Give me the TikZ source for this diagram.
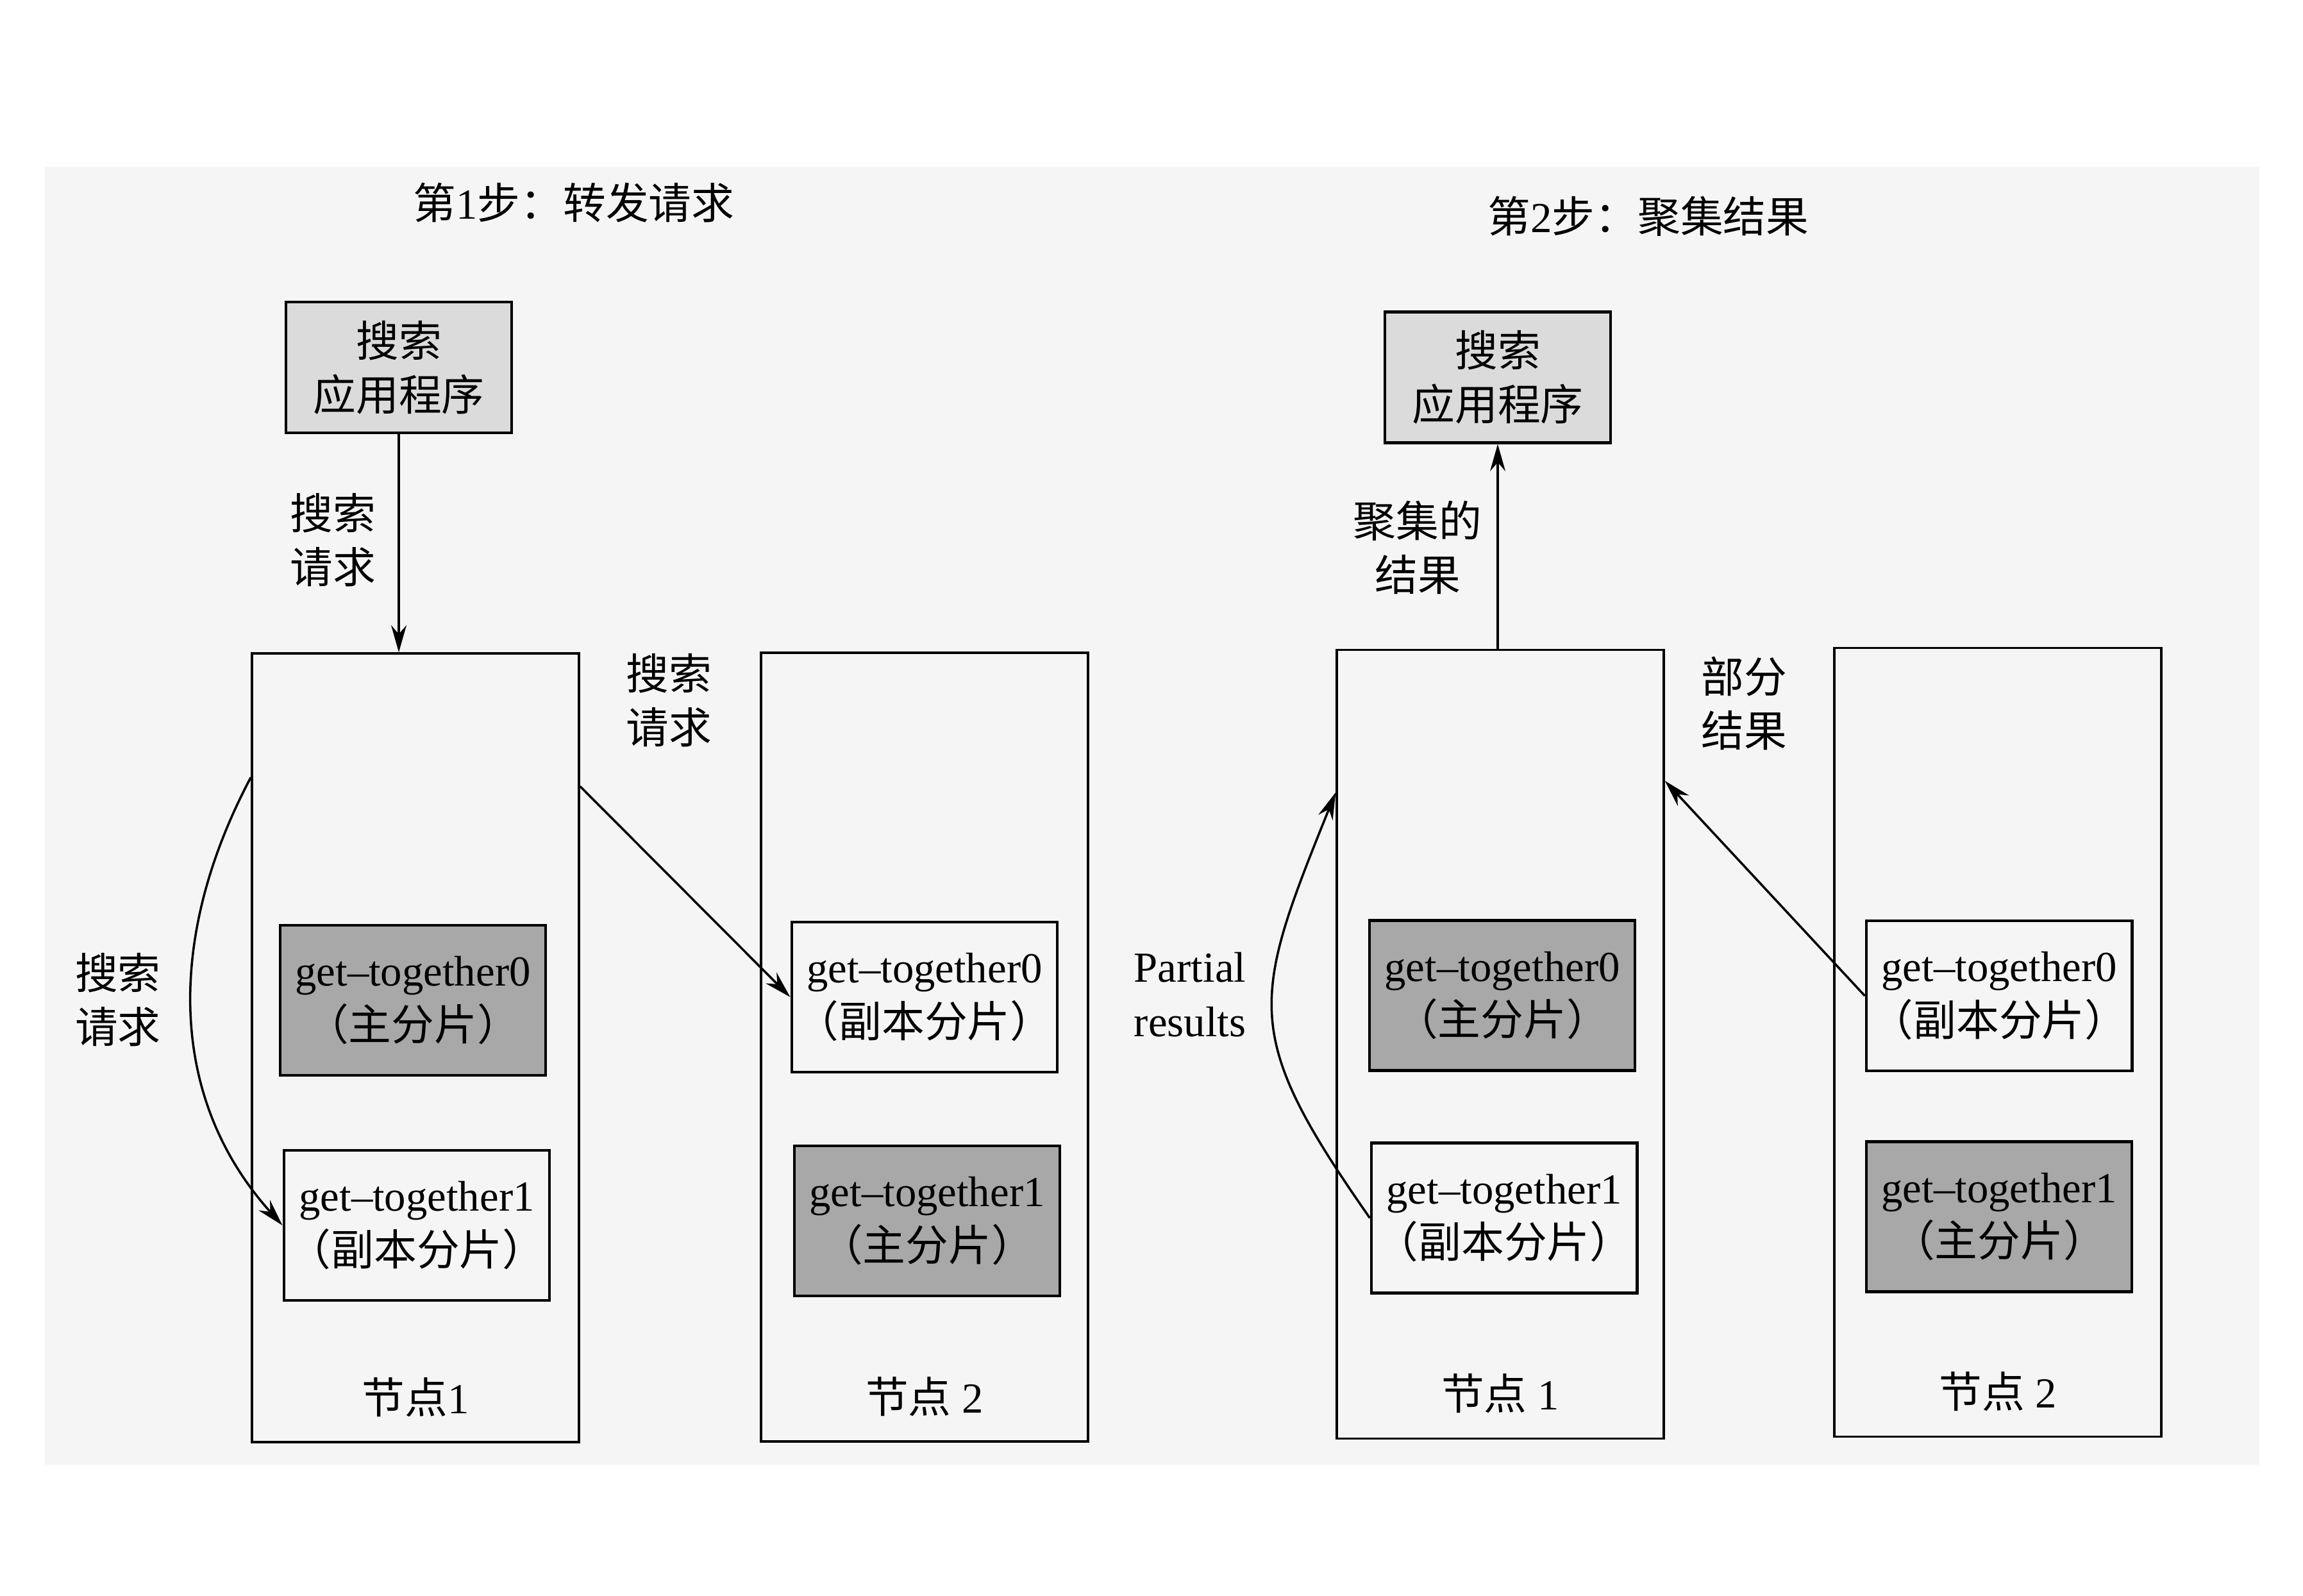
\documentclass[tikz,border=0pt]{standalone}
\usepackage{fontspec}
\setmainfont{Liberation Serif}
\newfontfamily\cjk{Noto Sans CJK SC}
\usetikzlibrary{arrows.meta}

\definecolor{pagegray}{gray}{0.96}
\definecolor{shardgray}{gray}{0.66}
\definecolor{appgray}{gray}{0.86}

\begin{document}
\begin{tikzpicture}[
    font=\fontsize{9.5}{12}\selectfont,
    zh/.style={font=\cjk\fontsize{9.5}{12}\selectfont},
    app/.style={zh, draw, fill=appgray, line width=0.6pt, minimum width=1.76cm, minimum height=1.02cm, align=center, inner sep=1pt},
    nodebox/.style={draw, line width=0.5pt, minimum width=2.55cm, minimum height=6.15cm},
    primary/.style={draw, fill=shardgray, line width=0.6pt, minimum width=2.07cm, minimum height=1.17cm, align=center, inner sep=1pt},
    replica/.style={primary, fill=none},
    lbl/.style={zh, align=center},
    arr/.style={-{Stealth[length=6pt, width=3.4pt]}, line width=0.5pt}
]
    % Page
    \useasboundingbox (0, 0) rectangle (17.96, -12.44);
    \fill[pagegray] (0.35, -1.3) rectangle (17.62, -11.42);

    % Titles
    \node (title1) at (4.475, -1.58) {{\cjk 第}1{\cjk 步：转发请求}};
    \node (title2) at (12.855, -1.685) {{\cjk 第}2{\cjk 步：聚集结果}};

    % Step 1: forward the request
    \node[app] (app1) at (3.11, -2.865) {搜索\\应用程序};
    \node[nodebox] (n1) at (3.24, -8.17) {};
    \node[nodebox] (n2) at (7.21, -8.165) {};
    \node[primary] (n1s0) at (3.22, -7.80) {get--together0\\{\cjk （主分片）}};
    \node[replica] (n1s1) at (3.25, -9.555) {get--together1\\{\cjk （副本分片）}};
    \node[replica] (n2s0) at (7.21, -7.775) {get--together0\\{\cjk （副本分片）}};
    \node[primary] (n2s1) at (7.23, -9.52) {get--together1\\{\cjk （主分片）}};
    \node (n1lbl) at ([yshift=0.36cm]n1.south) {{\cjk 节点}1};
    \node (n2lbl) at ([yshift=0.36cm]n2.south) {{\cjk 节点} 2};

    \draw[arr] (app1.south) -- (app1.south |- n1.north);
    \node[lbl] (req1) at (2.595, -4.21) {搜索\\请求};
    \draw[arr] ([yshift=-0.975cm]n1.north west) to[out=-118, in=132, looseness=1.0] (n1s1.west);
    \node[lbl] (req2) at (0.92, -7.795) {搜索\\请求};
    \draw[arr] ([yshift=-1.045cm]n1.north east) -- (n2s0.west);
    \node[lbl] (req3) at (5.215, -5.46) {搜索\\请求};

    % Step 2: gather the results
    \node[app] (app2) at (11.68, -2.9425) {搜索\\应用程序};
    \node[nodebox] (n3) at (11.70, -8.1425) {};
    \node[nodebox] (n4) at (15.58, -8.1275) {};
    \node[primary] (n3s0) at (11.715, -7.7625) {get--together0\\{\cjk （主分片）}};
    \node[replica] (n3s1) at (11.73, -9.4975) {get--together1\\{\cjk （副本分片）}};
    \node[replica] (n4s0) at (15.59, -7.765) {get--together0\\{\cjk （副本分片）}};
    \node[primary] (n4s1) at (15.59, -9.4875) {get--together1\\{\cjk （主分片）}};
    \node (n3lbl) at ([yshift=0.36cm]n3.south) {{\cjk 节点} 1};
    \node (n4lbl) at ([yshift=0.36cm]n4.south) {{\cjk 节点} 2};

    \draw[arr] (app2.south |- n3.north) -- (app2.south);
    \node[lbl] (res1) at (11.055, -4.27) {聚集的\\结果};
    \draw[arr] (n3s1.west) to[out=125, in=-112, looseness=1.35] ([yshift=-1.12cm]n3.north west);
    \node[lbl, font=\fontsize{9.5}{12}\selectfont] (res2) at (9.28, -7.755) {Partial\\results};
    \draw[arr] (n4s0.west) -- ([yshift=-1.03cm]n3.north east);
    \node[lbl] (res3) at (13.6, -5.485) {部分\\结果};
\end{tikzpicture}
\end{document}
